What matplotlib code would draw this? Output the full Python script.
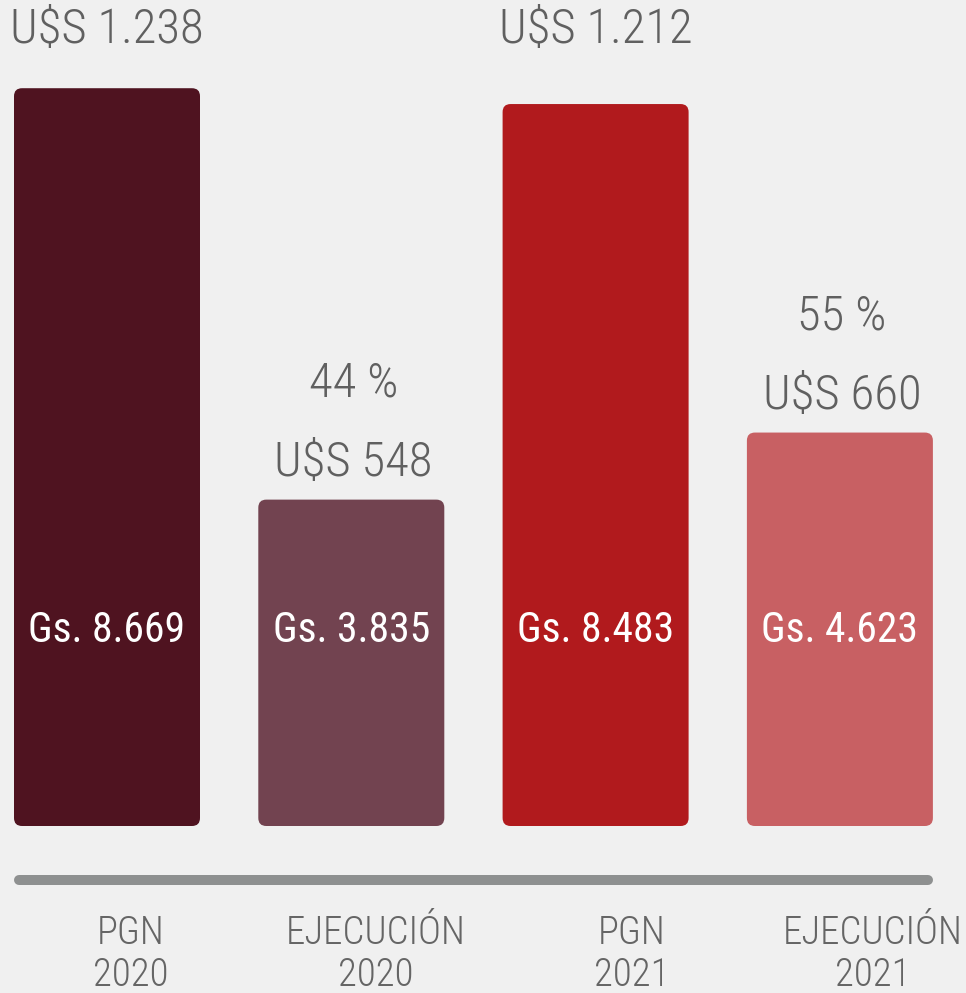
import matplotlib
matplotlib.use("Agg")
import matplotlib.pyplot as plt
from matplotlib.patches import FancyBboxPatch

# datos: presupuesto PGN vs ejecución (miles de millones)
categorias = ["PGN\n2020", "EJECUCIÓN\n2020", "PGN\n2021", "EJECUCIÓN\n2021"]
gs_valores = [8669, 3835, 8483, 4623]
gs_labels = ["Gs. 8.669", "Gs. 3.835", "Gs. 8.483", "Gs. 4.623"]
usd_labels = ["U$S 1.238", "U$S 548", "U$S 1.212", "U$S 660"]
pct_labels = ["", "44 %", "", "55 %"]
colores = ["#4F1320", "#724350", "#B11A1D", "#C86063"]

BG = "#F0F0F0"
GRIS = "#606060"
FONT = ["Roboto Condensed", "Archivo Narrow", "DejaVu Sans"]

W, H = 966, 993
fig = plt.figure(figsize=(W / 100, H / 100), dpi=100, facecolor=BG)
ax = fig.add_axes([0, 0, 1, 1])
ax.set_facecolor(BG)

# escala: ~244 px entre barras, 11.75 unidades por px en y
px_x = 1 / 244.3
px_y = 11.75
ax.set_xlim(-107 * px_x, (W - 107) * px_x)
ax.set_ylim(-167 * px_y, (H - 167) * px_y)
ax.axis("off")

ancho = 186 * px_x
cat_dx = [24, 24, 36, 33]
for i, (v, c) in enumerate(zip(gs_valores, colores)):
    p = FancyBboxPatch((i - ancho / 2, 0), ancho, v,
                       boxstyle=f"round,pad=0,rounding_size={8 * px_x}",
                       mutation_aspect=px_y / px_x,
                       facecolor=c, edgecolor="none")
    ax.add_patch(p)
    # valor en guaraníes dentro de la barra
    ax.text(i, 2300, gs_labels[i], color="white", fontsize=30,
            ha="center", va="center", family=FONT)
    # etiquetas de categoría (desplazadas a la derecha)
    ax.annotate(categorias[i], xy=(i, -634), xytext=(cat_dx[i], -74),
                textcoords="offset pixels", ha="center", va="center",
                fontsize=28, color="#656565", family=FONT,
                fontweight="light", linespacing=1.15)

# etiquetas en dólares
for i, lab in enumerate(usd_labels):
    if pct_labels[i]:
        ax.annotate(lab, xy=(i, gs_valores[i]), xytext=(2, 37),
                    textcoords="offset pixels", ha="center", va="center",
                    fontsize=35, color=GRIS, family=FONT, fontweight="light")
        ax.annotate(pct_labels[i], xy=(i, gs_valores[i]), xytext=(2, 116),
                    textcoords="offset pixels", ha="center", va="center",
                    fontsize=35, color=GRIS, family=FONT, fontweight="light")
    else:
        ax.text(i, 1 - 30 / H, lab, transform=ax.get_xaxis_transform(),
                ha="center", va="center", fontsize=35, color=GRIS,
                family=FONT, fontweight="light")

# línea base gris
ax.plot([-ancho / 2 + 5 * px_x, 3 + ancho / 2 - 5 * px_x], [-634, -634],
        color="#8E9090", lw=7.2, solid_capstyle="round")

fig.savefig("out.png", dpi=100, facecolor=BG)
